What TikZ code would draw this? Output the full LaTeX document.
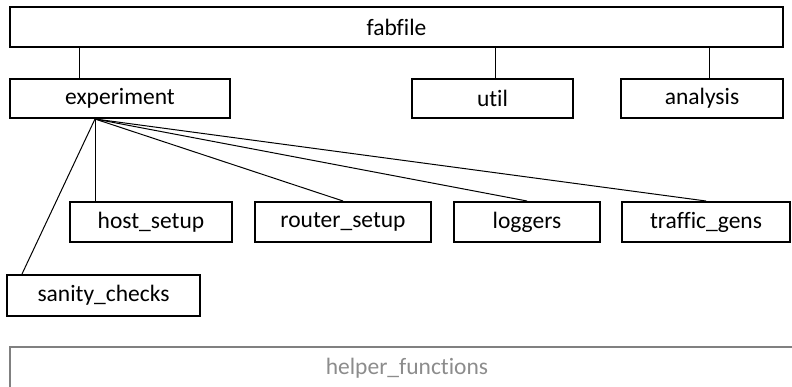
\documentclass[tikz,border=0pt]{standalone}
\usepackage{fontspec}
\setmainfont[Ligatures=CommonOff]{Carlito}
\usepackage{tikz}
\usetikzlibrary{calc,positioning}
\definecolor{colorhelp}{HTML}{808080}
\definecolor{colorhelptext}{HTML}{8C8C8C}
\tikzset{
  module/.style={draw=black, line width=2pt, inner sep=0pt,
    minimum height=40pt, font=\fontsize{23.5}{28}\selectfont},
  helper/.style={draw=colorhelp, line width=2pt, inner sep=0pt,
    text=colorhelptext, font=\fontsize{23.5}{28}\selectfont},
  edgeimp/.style={black, line width=1pt}
}

\begin{document}
\begin{tikzpicture}[x=1pt, y=-1pt]
\useasboundingbox (0,0) rectangle (792,387);
\clip (0,0) rectangle (792,387);

\node[module, minimum width=773pt](fab) at (396.5,27) {fabfile};

\node[module, minimum width=220pt, minimum height=39pt](exp) at (120,98.5)
{experiment};

\node[module, minimum width=161pt, minimum height=39pt](util) at (492.5,98.5)
{util};

\node[module, minimum width=162pt, minimum height=39pt](ana) at (702,98.5)
{analysis};

\node[module, minimum width=162pt](host) at (151,222) {host\_setup};

\node[module, minimum width=176pt](router) at (343,222) {router\_setup};

\node[module, minimum width=146pt](log) at (527,222) {loggers};

\node[module, minimum width=168pt](traf) at (706,222) {traffic\_gens};

\node[module, minimum width=193pt, minimum height=41pt](sane) at (103.5,295.5)
{sanity\_checks};

\node[helper, minimum width=794pt, minimum height=42pt](help) at (407,368)
{helper\_functions};

\draw[edgeimp] (fab.south -| 79,0) -- (exp.north -| 79,0);

\draw[edgeimp] (fab.south -| 495,0) -- (util.north -| 495,0);

\draw[edgeimp] (fab.south -| 709,0) -- (ana.north -| 709,0);

\coordinate (expout) at (exp.south -| 95,0);

\draw[edgeimp] (expout) -- (host.north -| expout);

\draw[edgeimp] (expout) -- (router.north);

\draw[edgeimp] (expout) -- (log.north);

\draw[edgeimp] (expout) -- (traf.north);

\draw[edgeimp] (expout) -- ([xshift=16pt]sane.north west);
\end{tikzpicture}
\end{document}
